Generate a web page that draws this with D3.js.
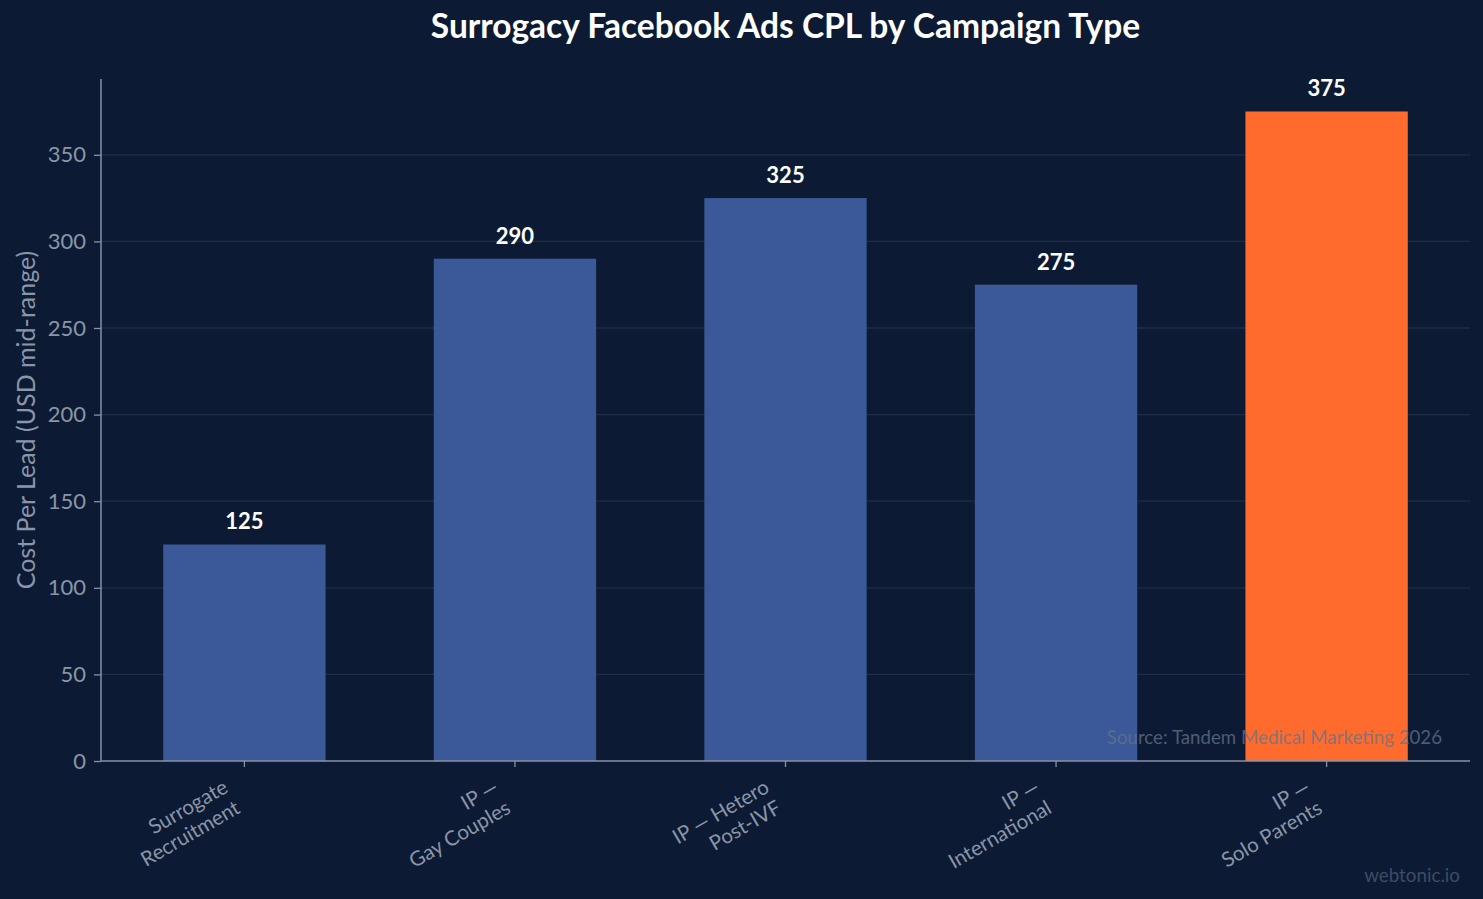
<!DOCTYPE html>
<html>
<head>
<meta charset="utf-8">
<script src="https://cdn.jsdelivr.net/npm/d3@7"></script>
<style>
  html, body { margin: 0; padding: 0; background: #0c1b33; }
  svg { display: block; }
  text { font-family: Lato, "Noto Sans", sans-serif; }
</style>
</head>
<body>
<svg id="chart" width="1483" height="899"></svg>
<script>
const categories = [
  ["Surrogate", "Recruitment"],
  ["IP \u2014", "Gay Couples"],
  ["IP \u2014 Hetero", "Post-IVF"],
  ["IP \u2014", "International"],
  ["IP \u2014", "Solo Parents"]
];
const values = [125, 290, 325, 275, 375];
const highlight = [false, false, false, false, true];
const yTicks = [0, 50, 100, 150, 200, 250, 300, 350];
const title = "Surrogacy Facebook Ads CPL by Campaign Type";
const yLabel = "Cost Per Lead (USD mid-range)";
const source = "Source: Tandem Medical Marketing 2026";
const credit = "webtonic.io";

const W = 1483, H = 899;
const m = { left: 101, right: 13, top: 79, bottom: 138 };
const svg = d3.select("#chart");
svg.append("rect").attr("width", W).attr("height", H).attr("fill", "#0c1b33");

const x = d3.scaleBand()
  .domain(d3.range(values.length))
  .range([m.left, W - m.right])
  .paddingInner(0.4)
  .paddingOuter(0.23);
const y = d3.scaleLinear()
  .domain([0, d3.max(values) * 1.05])
  .range([H - m.bottom, m.top]);

// grid
svg.append("g").selectAll("line").data(yTicks.filter(d => d > 0)).join("line")
  .attr("x1", m.left).attr("x2", W - m.right)
  .attr("y1", d => y(d)).attr("y2", d => y(d))
  .attr("stroke", "#1e2d48").attr("stroke-width", 1.3);

// bars
svg.append("g").selectAll("rect").data(values).join("rect")
  .attr("x", (d, i) => x(i))
  .attr("width", x.bandwidth())
  .attr("y", d => y(d))
  .attr("height", d => y(0) - y(d))
  .attr("fill", (d, i) => highlight[i] ? "#ff6b2c" : "#3b5998");

// value labels
svg.append("g").selectAll("text").data(values).join("text")
  .attr("x", (d, i) => x(i) + x.bandwidth() / 2)
  .attr("y", d => y(d) - 15)
  .attr("text-anchor", "middle")
  .attr("fill", "#ffffff")
  .attr("font-weight", "bold")
  .attr("font-size", 22)
  .text(d => d);

// y axis
const yAxis = svg.append("g")
  .attr("transform", `translate(${m.left},0)`)
  .call(d3.axisLeft(y).tickValues(yTicks).tickSize(7).tickPadding(8));
yAxis.select(".domain").attr("stroke", "#8892a6").attr("stroke-width", 1.5)
  .attr("d", `M0,${m.top}V${H - m.bottom}`);
yAxis.selectAll(".tick line").attr("stroke", "#8892a6").attr("stroke-width", 1.3);
yAxis.selectAll(".tick text").attr("fill", "#8a96a8").attr("font-size", 22)
  .attr("font-family", "Lato, sans-serif");

// x axis
const xAxis = svg.append("g")
  .attr("transform", `translate(0,${H - m.bottom})`)
  .call(d3.axisBottom(x).tickSize(6).tickFormat(""));
xAxis.select(".domain").attr("stroke", "#8892a6").attr("stroke-width", 1.5)
  .attr("d", `M${m.left},0H${W - m.right}`);
xAxis.selectAll(".tick line").attr("stroke", "#8892a6").attr("stroke-width", 1.3);

// x labels rotated
const lh = 24;
const xl = svg.append("g").selectAll("text").data(categories).join("text")
  .attr("transform", (d, i) => `translate(${x(i) + x.bandwidth() / 2 - 3},${H - m.bottom + 51}) rotate(-30)`)
  .attr("text-anchor", "end")
  .attr("fill", "#8a96a8")
  .attr("font-size", 20.5);
xl.each(function(d) {
  const t = d3.select(this);
  d.forEach((line, j) => {
    t.append("tspan").attr("x", 0).attr("y", (j - (d.length - 1)) * lh).text(line);
  });
});

// title
svg.append("text")
  .attr("x", (m.left + W - m.right) / 2)
  .attr("y", 38)
  .attr("text-anchor", "middle")
  .attr("fill", "#ffffff")
  .attr("font-weight", "bold")
  .attr("font-size", 33.5)
  .text(title);

// y label
svg.append("text")
  .attr("transform", `translate(35,${(m.top + H - m.bottom) / 2}) rotate(-90)`)
  .attr("text-anchor", "middle")
  .attr("fill", "#8a96a8")
  .attr("font-size", 25)
  .text(yLabel);

// source
svg.append("text")
  .attr("x", W - m.right - 28)
  .attr("y", 744)
  .attr("text-anchor", "end")
  .attr("fill", "#64748b")
  .attr("fill-opacity", 0.75)
  .attr("font-size", 18.7)
  .text(source);

// credit
svg.append("text")
  .attr("x", W - 23)
  .attr("y", 882)
  .attr("text-anchor", "end")
  .attr("fill", "#3d4b65")
  .attr("font-size", 18.8)
  .text(credit);
</script>
</body>
</html>
